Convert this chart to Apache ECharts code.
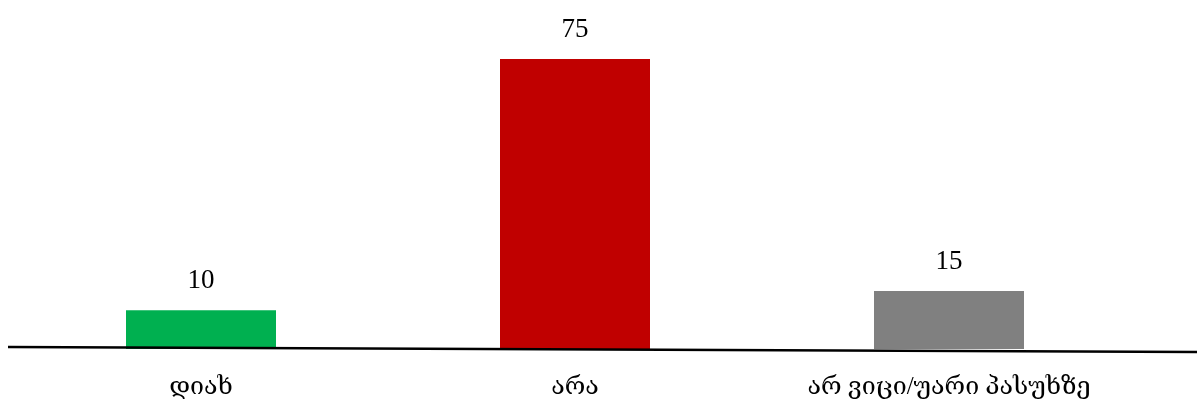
<!DOCTYPE html>
<html>
<head>
<meta charset="utf-8">
<script src="https://cdn.jsdelivr.net/npm/echarts@6/dist/echarts.min.js"></script>
<style>
  html, body { margin: 0; padding: 0; background: #ffffff; }
  #chart { width: 1197px; height: 404px; }
</style>
</head>
<body>
<div id="chart"></div>
<script>
// Survey answers (percent)
const categories = ['დიახ', 'არა', 'არ ვიცი/უარი პასუხზე'];
const values = [10, 75, 15];
const barColors = ['#00B050', '#C00000', '#808080'];

const chart = echarts.init(document.getElementById('chart'), null, { renderer: 'canvas' });

const serif = "'Liberation Serif', 'DejaVu Serif', serif";

chart.setOption({
  animation: false,
  backgroundColor: '#ffffff',
  grid: { left: 14, right: 61, top: 59, bottom: 55 },
  xAxis: {
    type: 'category',
    data: categories,
    axisLine: { show: false },
    axisTick: { show: false },
    axisLabel: {
      interval: 0,
      hideOverlap: false,
      color: '#000000',
      fontFamily: serif,
      fontSize: 25,
      margin: 26
    }
  },
  yAxis: {
    type: 'value',
    min: 0,
    max: 75,
    show: false,
    splitLine: { show: false }
  },
  series: [{
    type: 'bar',
    barWidth: 150,
    data: values.map((v, i) => ({ value: v, itemStyle: { color: barColors[i] } })),
    label: {
      show: true,
      position: 'top',
      distance: 16,
      color: '#000000',
      fontFamily: serif,
      fontSize: 27
    }
  }],
  graphic: [{
    // baseline across the full width
    type: 'line',
    shape: { x1: 8, y1: 347, x2: 1197, y2: 352 },
    style: { stroke: '#000000', lineWidth: 2.5 },
    z: 10
  }]
});
</script>
</body>
</html>
